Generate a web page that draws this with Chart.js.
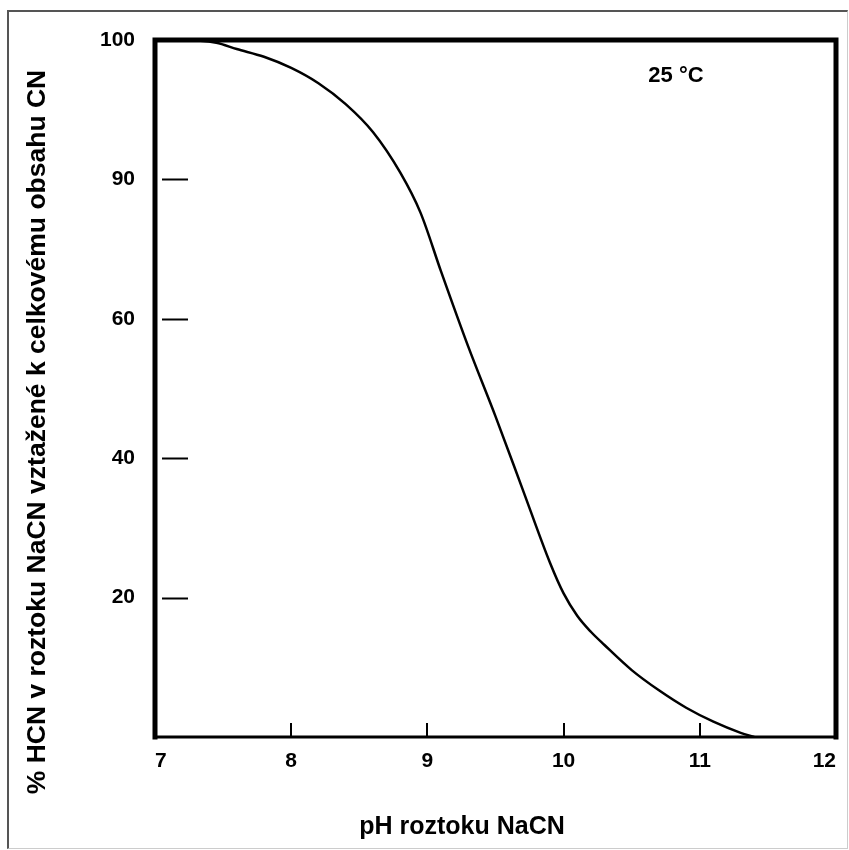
<!DOCTYPE html>
<html lang="cs">
<head>
<meta charset="UTF-8" />
<title>% HCN v roztoku NaCN</title>
<script src="https://cdn.jsdelivr.net/npm/chart.js@4.4.0/dist/chart.umd.min.js"></script>
<style>
  html, body { margin: 0; padding: 0; background: #fff; }
  #wrap { position: relative; width: 849px; height: 850px; }
  #frame {
    position: absolute; left: 7px; top: 10px; width: 838px; height: 836px;
    border-left: 2px solid #555; border-top: 2px solid #555;
    border-right: 1px solid #ccc; border-bottom: 1px solid #ccc;
  }
  canvas { position: absolute; left: 0; top: 0; }
</style>
</head>
<body>
<div id="wrap">
  <div id="frame"></div>
  <canvas id="chart" width="849" height="850"></canvas>
</div>

<script>
// data (pH, % HCN)
const phValues = [7.0, 7.2, 7.45, 7.6, 7.8, 8.0, 8.2, 8.4, 8.6, 8.8, 8.95, 9.1, 9.3, 9.5, 9.7, 9.9, 10.0, 10.1, 10.2, 10.3, 10.5, 10.7, 10.9, 11.1, 11.3, 11.4];
const hcnPercent = [100, 100, 99.6, 98.7, 97.6, 96.0, 93.8, 90.8, 86.8, 81.0, 75.2, 66.8, 56.0, 46.0, 35.5, 25.0, 20.6, 17.4, 15.1, 13.2, 9.6, 6.7, 4.2, 2.2, 0.6, 0];

// axis ticks (the original labels the 4th mark "90")
const xTickValues = [7, 8, 9, 10, 11, 12];
const yTickValues = [0, 20, 40, 60, 80, 100];
const yTickLabels = ['', '20', '40', '60', '90', '100'];

const xTitle = 'pH roztoku NaCN';
const yTitle = '% HCN v roztoku NaCN vztažené k celkovému obsahu CN';
const tempLabel = '25 °C';

const FONT = '"Liberation Sans", Arial, sans-serif';

// box, inner tick marks and texts
const framePlugin = {
  id: 'framePlugin',
  afterDatasetsDraw(chart) {
    const { ctx, chartArea: a, scales } = chart;
    ctx.save();
    ctx.strokeStyle = '#000';
    ctx.lineCap = 'square';

    // frame
    ctx.lineWidth = 5;
    ctx.beginPath();
    ctx.moveTo(a.left, a.bottom);
    ctx.lineTo(a.left, a.top);
    ctx.lineTo(a.right, a.top);
    ctx.lineTo(a.right, a.bottom);
    ctx.stroke();
    ctx.lineWidth = 3;
    ctx.beginPath();
    ctx.moveTo(a.left, a.bottom);
    ctx.lineTo(a.right, a.bottom);
    ctx.stroke();

    // inner ticks
    ctx.lineWidth = 2;
    ctx.lineCap = 'butt';
    yTickValues.slice(1, -1).forEach(v => {
      const y = Math.round(scales.y.getPixelForValue(v)) + 0.5;
      ctx.beginPath();
      ctx.moveTo(a.left + 7, y);
      ctx.lineTo(a.left + 33, y);
      ctx.stroke();
    });
    xTickValues.slice(1, -1).forEach(v => {
      const x = Math.round(scales.x.getPixelForValue(v));
      ctx.beginPath();
      ctx.moveTo(x, a.bottom);
      ctx.lineTo(x, a.bottom - 14);
      ctx.stroke();
    });

    // texts
    ctx.fillStyle = '#000';
    ctx.textAlign = 'center';
    ctx.textBaseline = 'middle';
    ctx.font = 'bold 25px ' + FONT;
    ctx.fillText(xTitle, 462, 827);
    ctx.save();
    ctx.translate(38, 432);
    ctx.rotate(-Math.PI / 2);
    ctx.font = 'bold 26.5px ' + FONT;
    ctx.fillText(yTitle, 0, 0);
    ctx.restore();
    ctx.font = 'bold 22px ' + FONT;
    ctx.fillText(tempLabel, 676, 76);
    ctx.restore();
  }
};

new Chart(document.getElementById('chart'), {
  type: 'line',
  data: {
    datasets: [{
      data: phValues.map((x, i) => ({ x: x, y: hcnPercent[i] })),
      borderColor: '#000',
      borderWidth: 2.5,
      pointRadius: 0,
      fill: false,
      cubicInterpolationMode: 'monotone'
    }]
  },
  options: {
    responsive: false,
    animation: false,
    layout: { padding: { top: 40, right: 13, left: 0, bottom: 0 } },
    plugins: { legend: { display: false }, tooltip: { enabled: false } },
    scales: {
      x: {
        type: 'linear',
        min: 7,
        max: 12,
        afterBuildTicks: s => { s.ticks = xTickValues.map(v => ({ value: v })); },
        afterFit: s => { s.height = 113; s.paddingLeft = 0; s.paddingRight = 0; },
        grid: { display: false, drawTicks: false },
        border: { display: false },
        ticks: {
          align: 'inner',
          padding: 12,
          color: '#000',
          font: { family: FONT, size: 21, weight: 'bold' }
        }
      },
      y: {
        min: 0,
        max: 100,
        afterBuildTicks: s => { s.ticks = yTickValues.map(v => ({ value: v })); },
        afterFit: s => { s.width = 155; s.paddingTop = 0; s.paddingBottom = 0; },
        grid: { display: false, drawTicks: false },
        border: { display: false },
        ticks: {
          padding: 20,
          color: '#000',
          font: { family: FONT, size: 21, weight: 'bold' },
          callback: v => yTickLabels[yTickValues.indexOf(v)]
        }
      }
    }
  },
  plugins: [framePlugin]
});
</script>
</body>
</html>
